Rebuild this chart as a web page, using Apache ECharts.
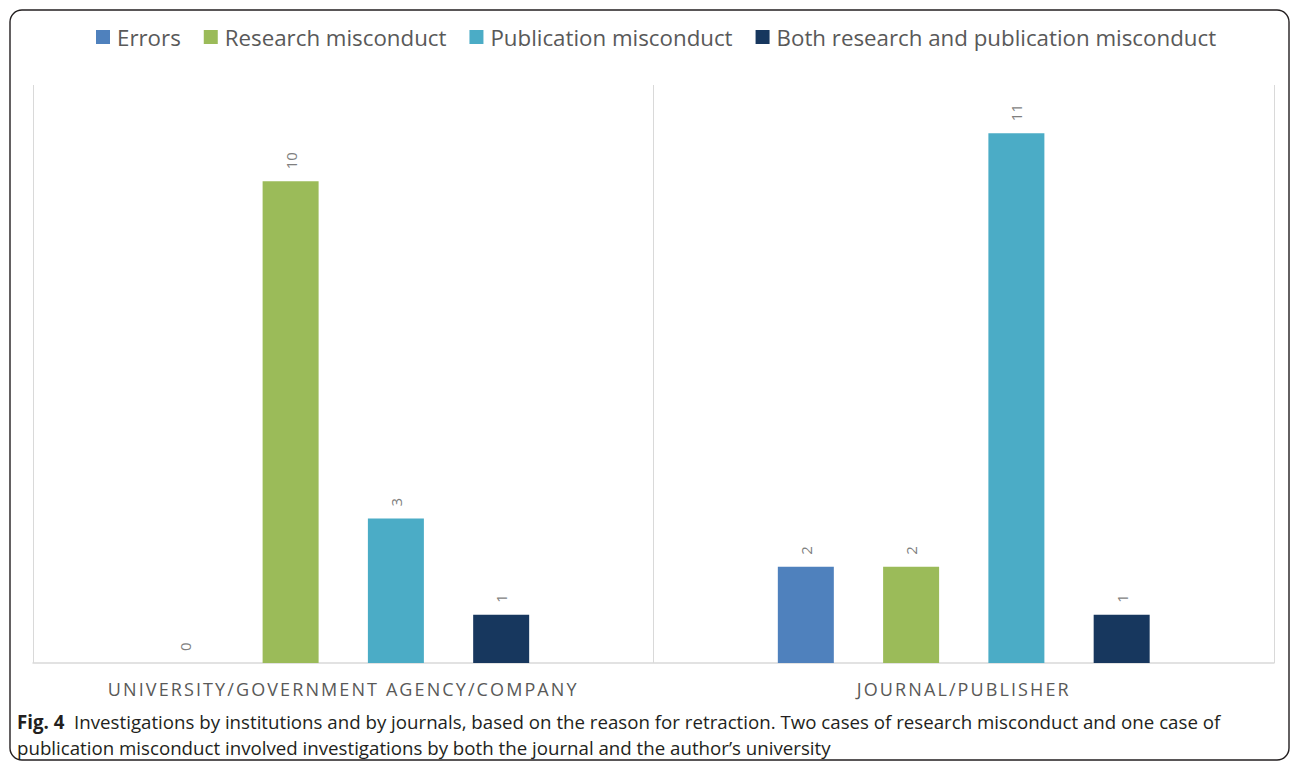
<!DOCTYPE html>
<html>
<head>
<meta charset="utf-8">
<script src="https://cdn.jsdelivr.net/npm/echarts@6/dist/echarts.min.js"></script>
<style>
html,body{margin:0;padding:0;background:#fff;}
#main{width:1298px;height:767px;}
#main text[fill="#595958"]{letter-spacing:2.1px;}
</style>
</head>
<body>
<div id="main"></div>
<script>
const categories = ['UNIVERSITY/GOVERNMENT AGENCY/COMPANY', 'JOURNAL/PUBLISHER'];
const seriesNames = ['Errors', 'Research misconduct', 'Publication misconduct', 'Both research and publication misconduct'];
const errors = [0, 2];
const researchMisconduct = [10, 2];
const publicationMisconduct = [3, 11];
const bothMisconduct = [1, 1];
const seriesValues = [errors, researchMisconduct, publicationMisconduct, bothMisconduct];
const colors = ['#4F81BD', '#9BBB59', '#4BACC6', '#17375E'];
const captionBold = 'Fig. 4';
const captionLine1 = 'Investigations by institutions and by journals, based on the reason for retraction. Two cases of research misconduct and one case of';
const captionLine2 = 'publication misconduct involved investigations by both the journal and the author\u2019s university';

const chart = echarts.init(document.getElementById('main'), null, {renderer: 'svg'});
const option = {
  animation: false,
  backgroundColor: '#ffffff',
  color: colors,
  legend: {
    top: 21,
    left: 91,
    icon: 'rect',
    itemWidth: 14,
    itemHeight: 14,
    itemGap: 23,
    textStyle: {color: '#595959', fontSize: 22.3, fontFamily: 'Open Sans', padding: [0, 0, 0, 2]},
    data: seriesNames
  },
  grid: {left: 33, right: 24, top: 85, bottom: 104, containLabel: false},
  xAxis: {
    type: 'category',
    data: categories,
    axisLine: {show: true, lineStyle: {color: '#d9d9d9', width: 1.5}},
    axisTick: {show: false},
    splitLine: {show: true, lineStyle: {color: '#d9d9d9', width: 1}},
    axisLabel: {color: '#595958', fontSize: 18, fontFamily: 'Open Sans', margin: 17}
  },
  yAxis: {
    type: 'value',
    min: 0,
    max: 12,
    interval: 1,
    show: false,
    splitLine: {show: false}
  },
  series: seriesValues.map((vals, i) => ({
    name: seriesNames[i],
    type: 'bar',
    data: vals,
    barWidth: 56,
    barGap: '88%',
    itemStyle: {color: colors[i]},
    label: {
      show: true,
      position: 'top',
      rotate: 90,
      align: 'left',
      verticalAlign: 'middle',
      distance: 12,
      color: '#7f7f7f',
      fontSize: 15,
      fontFamily: 'Open Sans'
    }
  })),
  graphic: [
    {
      type: 'rect',
      shape: {x: 10, y: 10, width: 1279, height: 750, r: 12},
      style: {fill: 'none', stroke: '#231f20', lineWidth: 1.4},
      silent: true,
      z: 100
    },
    {
      type: 'text',
      left: 17,
      top: 708,
      style: {
        text: '{b|' + captionBold + '}  ' + captionLine1 + '\n' + captionLine2,
        fontSize: 18.7,
        fontFamily: 'Open Sans',
        fill: '#231f20',
        lineHeight: 26,
        rich: {
          b: {fontWeight: 'bold', fontSize: 18.7, fontFamily: 'Open Sans', fill: '#231f20'}
        }
      },
      z: 100
    }
  ]
};
chart.setOption(option);
</script>
</body>
</html>
